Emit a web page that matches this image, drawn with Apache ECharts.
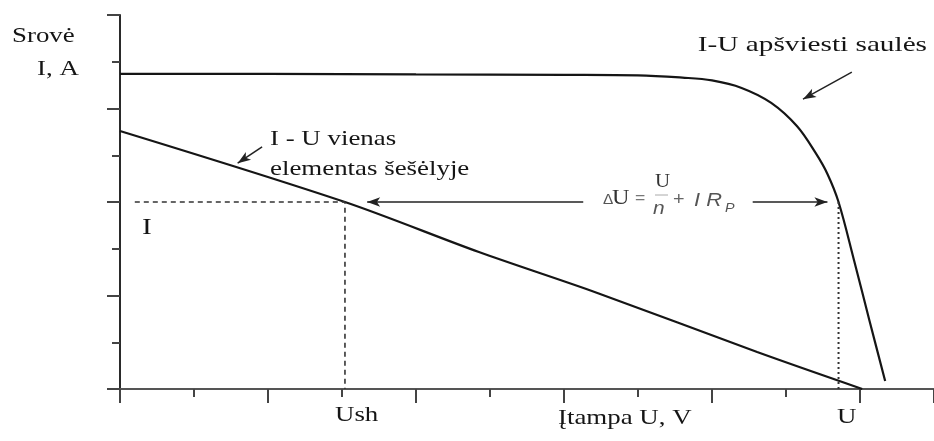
<!DOCTYPE html>
<html>
<head>
<meta charset="utf-8">
<script src="https://cdn.jsdelivr.net/npm/echarts@6/dist/echarts.min.js"></script>
<style>
  html, body { margin: 0; padding: 0; background: #fff; }
  #chart { width: 934px; height: 441px; }
</style>
</head>
<body>
<div id="chart"></div>
<script>
// I-U curve of the cell in sunlight (voltage, current)
const sunU = [0, 2, 4, 6, 7, 7.6, 8.0, 8.4, 8.8, 9.15, 9.4, 9.56, 9.71, 9.92, 10.13, 10.34];
const sunI = [6.74, 6.74, 6.73, 6.72, 6.71, 6.66, 6.6, 6.44, 6.12, 5.62, 5.05, 4.6, 4.0, 2.75, 1.45, 0.17];

// I-U line of a single shaded element
const shadeU = [0, 3.04, 4.85, 6.46, 8.61, 10.03];
const shadeI = [5.52, 4.0, 2.93, 2.05, 0.79, 0];

// Operating current and the matching voltages
const currentI = 4;
const ushU = 3.04;
const opU = 9.71;
const guideStartU = 0.2;

const pairs = (xs, ys) => xs.map((x, i) => [x, ys[i]]);

const serif = '"Liberation Serif", "Times New Roman", serif';
const sans = '"Liberation Sans", Arial, sans-serif';
const ink = '#151515';

function label(text, x, y, size, opts) {
  opts = opts || {};
  return {
    type: 'text',
    x: x, y: y,
    scaleX: opts.scaleX || 1.28,
    silent: true,
    style: {
      text: text,
      font: (opts.style || '') + ' ' + size + 'px ' + (opts.family || serif),
      fill: opts.fill || ink,
      verticalAlign: 'middle',
      align: opts.align || 'left'
    }
  };
}

const chart = echarts.init(document.getElementById('chart'), null, { renderer: 'canvas' });

const axisColor = '#2a2a2a';

chart.setOption({
  animation: false,
  backgroundColor: '#ffffff',
  grid: { left: 120, top: 15, width: 817, height: 374, containLabel: false },
  xAxis: [
    {
      type: 'value', position: 'bottom', min: 0, max: 11, interval: 2,
      axisLine: { show: true, onZero: false, lineStyle: { color: axisColor, width: 2 } },
      axisTick: { show: true, length: 14, lineStyle: { color: '#444', width: 2 } },
      axisLabel: { show: false }, splitLine: { show: false }
    },
    {
      type: 'value', position: 'bottom', min: 0, max: 11, interval: 1,
      axisLine: { show: false },
      axisTick: { show: true, length: 8, lineStyle: { color: '#444', width: 2 } },
      axisLabel: { show: false }, splitLine: { show: false }
    },
    {
      type: 'value', position: 'top', min: 0, max: 11,
      axisLine: { show: true, lineStyle: { color: '#555', width: 2 } },
      axisTick: { show: false }, axisLabel: { show: false }, splitLine: { show: false }
    }
  ],
  yAxis: [
    {
      type: 'value', position: 'left', offset: 0, min: 0, max: 8, interval: 2,
      axisLine: { show: true, onZero: false, lineStyle: { color: axisColor, width: 2 } },
      axisTick: { show: true, length: 13, lineStyle: { color: '#444', width: 2 } },
      axisLabel: { show: false }, splitLine: { show: false }
    },
    {
      type: 'value', position: 'left', offset: 0, min: 0, max: 8, interval: 1,
      axisLine: { show: false },
      axisTick: { show: true, length: 8, lineStyle: { color: '#444', width: 2 } },
      axisLabel: { show: false }, splitLine: { show: false }
    }
  ],
  series: [
    {
      name: 'sun', type: 'line', xAxisIndex: 0, yAxisIndex: 0,
      data: pairs(sunU, sunI), smooth: 0.35,
      showSymbol: false, symbol: 'none',
      lineStyle: { color: ink, width: 2.2 }
    },
    {
      name: 'shade', type: 'line', xAxisIndex: 0, yAxisIndex: 0,
      data: pairs(shadeU, shadeI), smooth: 0.3,
      showSymbol: false, symbol: 'none',
      lineStyle: { color: ink, width: 2.2 }
    },
    {
      name: 'guideI', type: 'line', xAxisIndex: 0, yAxisIndex: 0,
      data: [[guideStartU, currentI], [ushU, currentI], [ushU, 0]],
      showSymbol: false, symbol: 'none',
      lineStyle: { color: '#333', width: 1.6, type: [5, 4] }
    },
    {
      name: 'guideU', type: 'line', xAxisIndex: 0, yAxisIndex: 0,
      data: [[opU, currentI], [opU, 0]],
      showSymbol: false, symbol: 'none',
      lineStyle: { color: '#333', width: 2, type: [2, 3] },
      markLine: {
        silent: true,
        symbol: ['none', 'arrow'],
        symbolSize: [7, 13],
        label: { show: false },
        lineStyle: { color: '#222', width: 1.5, type: 'solid' },
        data: [
          [{ coord: [6.26, currentI] }, { coord: [3.34, currentI] }],
          [{ coord: [8.55, currentI] }, { coord: [9.56, currentI] }],
          [{ coord: [1.92, 5.18] }, { coord: [1.59, 4.83] }],
          [{ coord: [9.89, 6.78] }, { coord: [9.23, 6.2] }]
        ]
      }
    }
  ],
  graphic: [
    label('Srovė', 12, 36, 21),
    label('I, A', 37, 69, 21),
    label('I-U apšviesti saulės', 927, 45, 22, { scaleX: 1.33, align: 'right' }),
    label('I - U vienas', 270, 139, 21),
    label('elementas šešėlyje', 270, 169, 21),
    label('I', 142, 228, 23),
    label('Ush', 335, 415, 21),
    label('Įtampa U, V', 558, 418, 21),
    label('U', 837, 417, 21),
    // ΔU = U/n + I·R_P
    label('Δ', 603, 200, 14, { family: sans, fill: '#555', scaleX: 1.1 }),
    label('U', 612, 198, 21, { fill: '#333', scaleX: 1.15 }),
    label('=', 635, 199, 16, { family: sans, fill: '#777', scaleX: 1.1 }),
    label('U', 655, 182, 19, { fill: '#333', scaleX: 1.1 }),
    {
      type: 'line', silent: true,
      shape: { x1: 655, y1: 195, x2: 668, y2: 195 },
      style: { stroke: '#aaa', lineWidth: 1 }
    },
    label('n', 653, 209, 19, { family: sans, style: 'italic', fill: '#555', scaleX: 1.1 }),
    label('+', 673, 200, 18, { family: sans, fill: '#666', scaleX: 1.1 }),
    label('I R', 694, 201, 19, { family: sans, style: 'italic', fill: '#555', scaleX: 1.15 }),
    label('P', 725, 208, 13, { family: sans, style: 'italic', fill: '#555', scaleX: 1.1 })
  ]
});
</script>
</body>
</html>
